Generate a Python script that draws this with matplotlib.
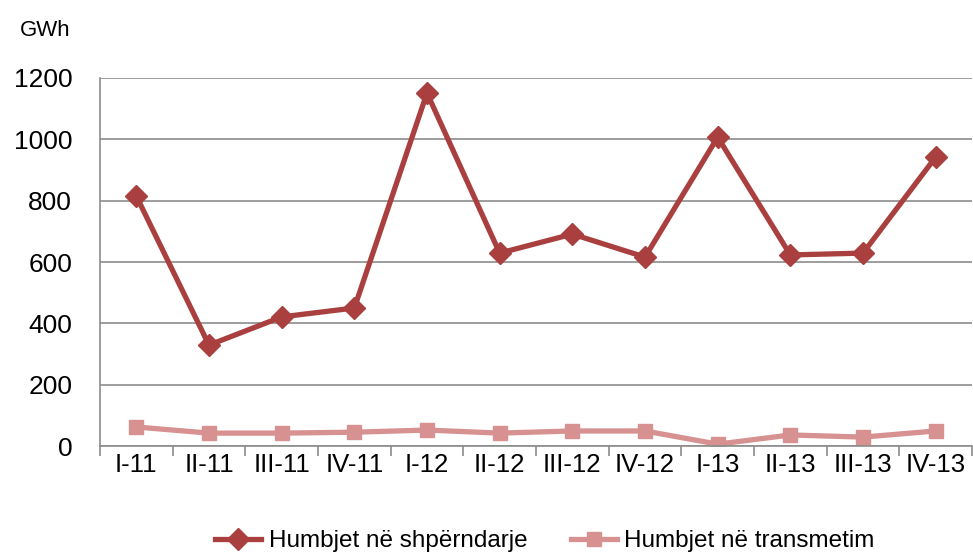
import matplotlib

matplotlib.use("Agg")
import matplotlib.pyplot as plt
import numpy as np

quarters = ["I-11", "II-11", "III-11", "IV-11", "I-12", "II-12", "III-12",
            "IV-12", "I-13", "II-13", "III-13", "IV-13"]
distribution = [815, 329, 421, 450, 1151, 629, 691, 616, 1007, 623, 629, 942]
transmission = [62, 42, 42, 45, 52, 42, 49, 49, 6, 36, 29, 49]

dark = "#A9403F"
light = "#D69190"
grid_col = "#8C8C8C"
plt.rcParams["font.family"] = ["Liberation Sans", "DejaVu Sans"]

fig = plt.figure(figsize=(9.73, 5.53), dpi=100)
ax = fig.add_axes([100 / 973, 107 / 553, 872 / 973, 368 / 553])

x = np.arange(len(quarters))
ax.plot(x, distribution, color=dark, lw=3.8, marker="D", ms=11,
        label="Humbjet në shpërndarje")
ax.plot(x, transmission, color=light, lw=3.8, marker="s", ms=9.5,
        label="Humbjet në transmetim")

ax.set_xlim(-0.5, len(quarters) - 0.5)
ax.set_ylim(0, 1200)
ax.set_yticks(range(0, 1201, 200))
ax.yaxis.grid(True, color=grid_col, lw=1.2)
ax.set_axisbelow(True)

ax.set_xticks(x)
ax.set_xticklabels(quarters, fontsize=18.5)
ax.set_xticks(np.arange(-0.5, len(quarters)), minor=True)
ax.tick_params(axis="x", which="major", length=0, pad=5)
ax.tick_params(axis="x", which="minor", length=7, color=grid_col, width=1.2)
ax.tick_params(axis="y", length=0, labelsize=19, pad=20)

for side in ["top", "right"]:
    ax.spines[side].set_visible(False)
for side in ["left", "bottom"]:
    ax.spines[side].set_color(grid_col)
    ax.spines[side].set_linewidth(1.2)

fig.text(20 / 973, 1 - 30 / 553, "GWh", fontsize=16, va="center")

fig.legend(loc="center", bbox_to_anchor=(545 / 973, 1 - 541 / 553), ncol=2,
           frameon=False, fontsize=17.5, handlelength=1.9, columnspacing=1.8,
           handletextpad=0.3)

fig.savefig("out.png", dpi=100)
